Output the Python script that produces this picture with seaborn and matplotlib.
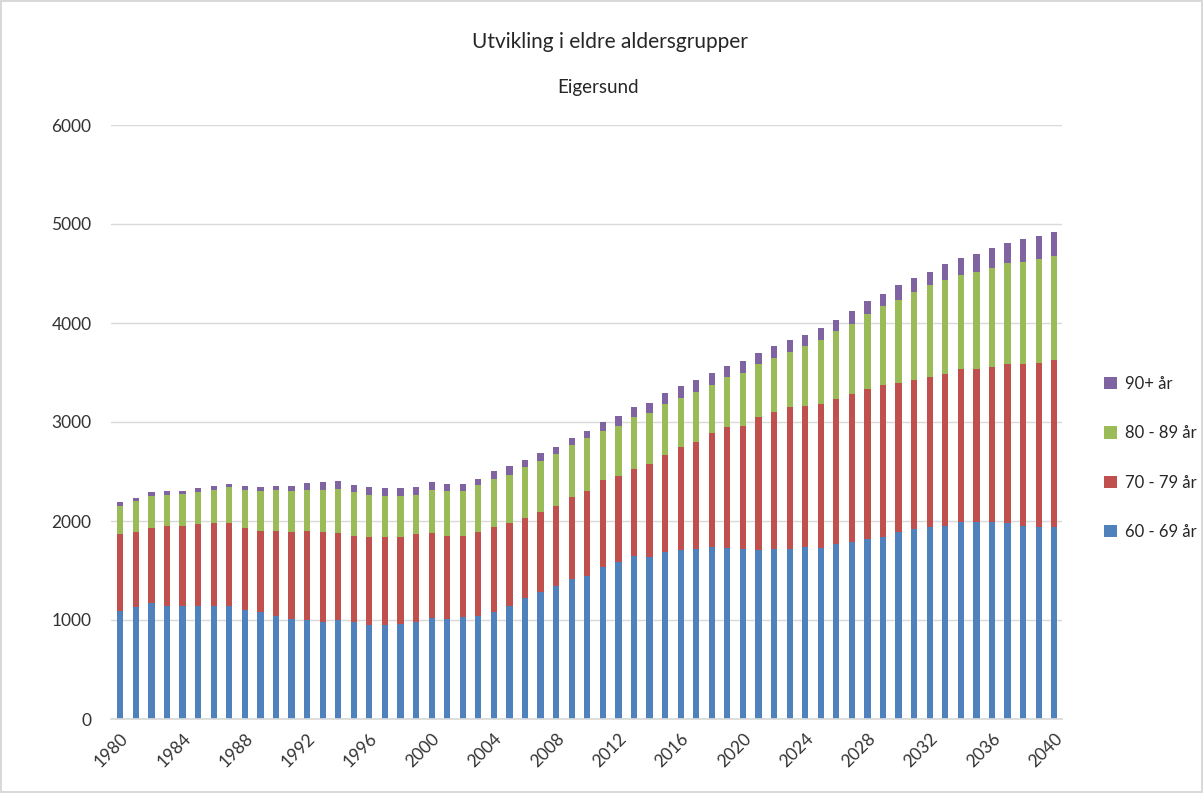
import matplotlib
matplotlib.use("Agg")
import matplotlib.pyplot as plt
from matplotlib.patches import Patch
import seaborn as sns
import numpy as np
import pandas as pd

years = list(range(1980, 2041))
age_60_69 = [1092, 1135, 1171, 1142, 1145, 1142, 1142, 1142, 1106, 1085,
             1042, 1009, 995, 984, 995, 984, 945, 945, 963, 984,
             1020, 1009, 1034, 1042, 1085, 1142, 1218, 1286, 1343, 1419,
             1444, 1534, 1584, 1645, 1634, 1685, 1706, 1721, 1742, 1731,
             1721, 1706, 1717, 1717, 1742, 1731, 1767, 1792, 1818, 1843,
             1893, 1918, 1943, 1954, 1990, 1990, 1990, 1979, 1954, 1943,
             1943]
age_70_79 = [772, 758, 754, 808, 805, 823, 834, 834, 819, 815,
             858, 880, 905, 905, 880, 869, 898, 898, 880, 880,
             855, 844, 819, 851, 858, 834, 808, 805, 812, 822,
             858, 883, 869, 884, 945, 977, 1045, 1081, 1150, 1218,
             1239, 1344, 1383, 1433, 1419, 1451, 1466, 1491, 1515, 1530,
             1501, 1505, 1516, 1530, 1544, 1544, 1566, 1606, 1631, 1653,
             1688]
age_80_89 = [288, 309, 327, 316, 318, 327, 341, 366, 392, 402,
             417, 413, 417, 428, 453, 439, 423, 409, 409, 402,
             438, 449, 449, 474, 485, 492, 517, 513, 521, 525,
             539, 496, 510, 521, 510, 517, 489, 499, 484, 510,
             539, 535, 549, 560, 611, 651, 689, 711, 762, 797,
             841, 891, 923, 948, 949, 981, 999, 1020, 1031, 1048,
             1049]
age_90p = [39, 32, 40, 36, 37, 39, 36, 36, 36, 40,
           36, 51, 64, 72, 75, 72, 76, 79, 79, 76,
           79, 76, 76, 61, 76, 86, 72, 86, 75, 75,
           72, 86, 101, 100, 101, 111, 122, 122, 123, 111,
           122, 111, 123, 123, 111, 115, 112, 126, 126, 126,
           147, 144, 133, 162, 172, 180, 201, 201, 230, 234,
           237]

series_labels = ["60 - 69 år", "70 - 79 år", "80 - 89 år", "90+ år"]
colors = ["#4F81BD", "#C0504D", "#9BBB59", "#8064A2"]
yticks = [0, 1000, 2000, 3000, 4000, 5000, 6000]
xtick_years = list(range(1980, 2041, 4))

df = pd.DataFrame({"year": [str(y) for y in years],
                   "a": age_60_69, "b": age_70_79, "c": age_80_89, "d": age_90p})
cum = np.cumsum(df[["a", "b", "c", "d"]].values, axis=1)

sns.set_theme(style="white")
plt.rcParams["font.family"] = ["Lato", "DejaVu Sans"]

W, H = 1203, 793
fig = plt.figure(figsize=(W / 100, H / 100), dpi=100)
fig.patch.set_facecolor("white")
fig.patch.set_edgecolor("#D9D9D9")
fig.patch.set_linewidth(1.5)

left, right, top, bottom = 111, 1062, 125, 719
ax = fig.add_axes([left / W, (H - bottom) / H, (right - left) / W, (bottom - top) / H])

order = [str(y) for y in years]
for i in range(3, -1, -1):
    sns.barplot(x=df["year"], y=cum[:, i], order=order, color=colors[i],
                width=0.4, saturation=1, ax=ax, linewidth=0, errorbar=None)

ax.set_ylim(0, 6000)
ax.set_xlim(-0.6, 60.5)
ax.set_yticks(yticks)
ax.set_yticklabels([str(v) for v in yticks], fontsize=12.5, color="#333333")
ax.yaxis.grid(True, color="#D9D9D9", linewidth=1)
ax.set_axisbelow(True)
ax.set_xticks([years.index(y) for y in xtick_years])
ax.set_xticklabels([str(y) for y in xtick_years], rotation=45, ha="right",
                   rotation_mode="anchor", fontsize=12.5, color="#333333")
ax.tick_params(axis="x", length=0, pad=8)
ax.tick_params(axis="y", length=0, pad=14)
for s in ["top", "right", "left"]:
    ax.spines[s].set_visible(False)
ax.spines["bottom"].set_color("#D9D9D9")
ax.set_xlabel("")
ax.set_ylabel("")

fig.text(610 / W, 1 - 42 / H, "Utvikling i eldre aldersgrupper", ha="center", va="center",
         fontsize=15, color="#262626")
fig.text(598 / W, 1 - 88 / H, "Eigersund", ha="center", va="center",
         fontsize=13.5, color="#262626")

handles = [Patch(facecolor=colors[i], edgecolor="none", label=series_labels[i]) for i in range(3, -1, -1)]
fig.legend(handles=handles, loc="center left", bbox_to_anchor=(1104 / W, 1 - 458 / H),
           frameon=False, fontsize=12, handlelength=0.75, handleheight=0.75,
           handletextpad=0.5, labelspacing=2.0, labelcolor="#262626",
           borderpad=0, borderaxespad=0)

fig.savefig("out.png", dpi=100)
